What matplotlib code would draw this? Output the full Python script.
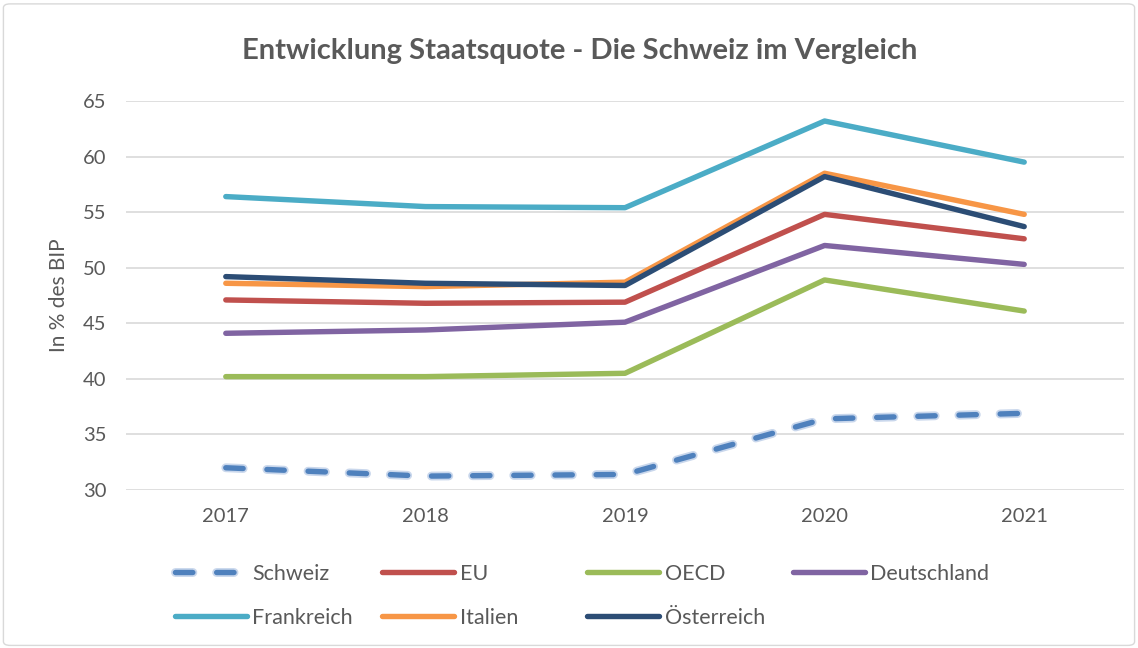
import matplotlib.pyplot as plt
import matplotlib.patheffects as pe
from matplotlib.patches import FancyBboxPatch

plt.rcParams['font.family'] = ['Lato', 'DejaVu Sans']

years = ['2017', '2018', '2019', '2020', '2021']

schweiz = [32.0, 31.25, 31.4, 36.4, 36.9]
eu = [47.1, 46.8, 46.9, 54.8, 52.6]
oecd = [40.2, 40.2, 40.5, 48.9, 46.1]
deutschland = [44.1, 44.4, 45.1, 52.0, 50.3]
frankreich = [56.4, 55.5, 55.4, 63.2, 59.5]
italien = [48.6, 48.3, 48.7, 58.5, 54.8]
oesterreich = [49.2, 48.6, 48.4, 58.2, 53.7]

grey = '#595959'
W, H = 1138, 648

fig = plt.figure( figsize=(W / 100, H / 100), dpi=100 )
fig.patches.append( FancyBboxPatch( (0.003, 0.004), 0.994, 0.99, boxstyle='round,pad=0,rounding_size=0.006',
                                    transform=fig.transFigure, fill=False, edgecolor='#D9D9D9', lw=1 ) )
ax = fig.add_axes( [126 / W, 1 - 490 / H, 998 / W, 389 / H] )

x = range( len( years ) )
lw = 3.9
glow = [pe.Stroke( linewidth=lw + 2.5, foreground='#C9D7EC' ), pe.Normal( )]

h_ch, = ax.plot( x, schweiz, color='#4F81BD', lw=lw, dashes=(3.2, 4.4), dash_capstyle='round',
                 solid_capstyle='round', path_effects=glow, label='Schweiz' )
h_eu, = ax.plot( x, eu, color='#C0504D', lw=lw, solid_capstyle='round', label='EU' )
h_oecd, = ax.plot( x, oecd, color='#9BBB59', lw=lw, solid_capstyle='round', label='OECD' )
h_de, = ax.plot( x, deutschland, color='#8064A2', lw=lw, solid_capstyle='round', label='Deutschland' )
h_fr, = ax.plot( x, frankreich, color='#4BACC6', lw=lw, solid_capstyle='round', label='Frankreich' )
h_it, = ax.plot( x, italien, color='#F79646', lw=lw, solid_capstyle='round', label='Italien' )
h_at, = ax.plot( x, oesterreich, color='#2C4D75', lw=lw, solid_capstyle='round', label='Österreich' )

ax.set_xlim( -0.5, 4.5 )
ax.set_ylim( 30, 65 )
ax.set_yticks( range( 30, 66, 5 ) )
ax.set_xticks( list( x ) )
ax.set_xticklabels( years )
ax.grid( axis='y', color='#D9D9D9', lw=1.2 )
ax.set_axisbelow( True )
for s in ax.spines.values( ):
    s.set_visible( False )
ax.tick_params( length=0, labelsize=14.5, labelcolor=grey )
ax.tick_params( axis='x', pad=13 )
ax.tick_params( axis='y', pad=14 )
ax.set_ylabel( 'In % des BIP', fontsize=15, color=grey, labelpad=10 )

fig.suptitle( 'Entwicklung Staatsquote - Die Schweiz im Vergleich', x=0.509, y=0.942, fontsize=21,
              fontweight='bold', color=grey )

# legend laid out like Excel: fixed column slots, two rows
slots = [(h_ch, 175, 574), (h_eu, 382, 574), (h_oecd, 587, 574), (h_de, 793, 574),
         (h_fr, 175, 618), (h_it, 382, 618), (h_at, 587, 618)]
for h, px, py in slots:
    fig.legend( handles=[h], labels=[h.get_label( )], loc='center left', bbox_to_anchor=(px / W, 1 - py / H),
                frameon=False, fontsize=15.5, handlelength=3.35, handletextpad=0.25, borderpad=0,
                borderaxespad=0, labelcolor=grey )

fig.savefig( 'out.png', dpi=100 )
